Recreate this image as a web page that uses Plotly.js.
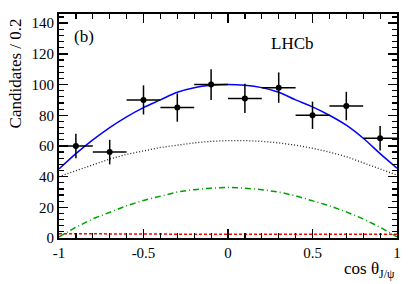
<!DOCTYPE html>
<html><head><meta charset="utf-8">
<script src="https://cdn.plot.ly/plotly-3.0.1.min.js"></script>
<style>html,body{margin:0;padding:0;background:#fff}#c{width:419px;height:284px}</style>
</head><body><div id="c"></div>
<script>
const binCenters = [-0.9,-0.7,-0.5,-0.3,-0.1,0.1,0.3,0.5,0.7,0.9];
const candidates = [60,56,90,85,100,91,98,80,86,65];
const candErr = [8,8,9.5,9.2,10,9.5,9.9,8.9,9.3,8];
const binHalfWidth = [0.1,0.1,0.1,0.1,0.1,0.1,0.1,0.1,0.1,0.1];
const curveX = [-1,-0.9,-0.8,-0.7,-0.6,-0.5,-0.4,-0.3,-0.2,-0.1,0,0.1,0.2,0.3,0.4,0.5,0.6,0.7,0.8,0.9,1];
const totalFit = [45,55,64,72,79,85,90,95,98,99.5,100,99.5,98,95,90,85.5,80,73.5,65,55,45.5];
const dottedComp = [40,44,48,51.5,54.5,57,59,60.5,62,63,63.5,63.5,63,62,60.5,58.5,56,53,49,45,41];
const greenComp = [0.8,7,12.5,17,21,24.5,27.5,30,31.5,32.5,33,32.5,31.5,30,27.5,24.5,21,17,12.5,7,0.8];
const redComp = [2.8,2.7,2.7,2.6,2.6,2.6,2.5,2.5,2.5,2.5,2.5,2.5,2.5,2.5,2.5,2.5,2.5,2.5,2.5,2.5,2.5];
const xTickVals = [-1,-0.5,0,0.5,1];
const xTickText = ["-1","-0.5","0","0.5","1"];
const yTickVals = [0,20,40,60,80,100,120,140];

const serif = "Liberation Serif, Times New Roman, serif";
const traces = [
 {x:curveX,y:redComp,mode:'lines',line:{color:'#ff0000',width:1.5,dash:'3px,2px'},hoverinfo:'skip'},
 {x:curveX,y:greenComp,mode:'lines',line:{color:'#00a000',width:1.5,dash:'6px,3px,1px,3px'},hoverinfo:'skip'},
 {x:curveX,y:dottedComp,mode:'lines',line:{color:'#222',width:1.3,dash:'1px,2px'},hoverinfo:'skip'},
 {x:curveX,y:totalFit,mode:'lines',line:{color:'#0000ff',width:1.5,shape:'spline'},hoverinfo:'skip'},
 {x:binCenters,y:candidates,mode:'markers',marker:{color:'#000',size:6},
  error_y:{type:'data',array:candErr,color:'#000',thickness:1.5,width:0},
  error_x:{type:'data',array:binHalfWidth,color:'#000',thickness:1.5,width:0}}
];
const axCommon = {showgrid:false,zeroline:false,showline:true,linecolor:'#000',linewidth:2,mirror:'allticks',
  ticks:'inside',tickcolor:'#000',tickwidth:1.5,tickfont:{family:serif,size:15,color:'#000'}};
const layout = {
 width:419,height:284,margin:{l:59,r:22,t:14,b:46},showlegend:false,
 paper_bgcolor:'#fff',plot_bgcolor:'#fff',
 xaxis:Object.assign({},axCommon,{range:[-1,1],tickvals:xTickVals,ticktext:xTickText,ticklen:9,
   minor:{dtick:0.1,tick0:0,ticklen:5,ticks:'inside',tickcolor:'#000',tickwidth:1.2}}),
 yaxis:Object.assign({},axCommon,{range:[0,146],tickvals:yTickVals,ticklen:9,
   minor:{dtick:4,tick0:0,ticklen:5,ticks:'inside',tickcolor:'#000',tickwidth:1.2}}),
 annotations:[
  {text:'(b)',xref:'paper',yref:'paper',x:0.038,y:0.9,xanchor:'left',yanchor:'middle',showarrow:false,font:{family:serif,size:17,color:'#000'}},
  {text:'LHCb',xref:'paper',yref:'paper',x:0.62,y:0.87,xanchor:'left',yanchor:'middle',showarrow:false,font:{family:serif,size:17,color:'#000'}},
  {text:'Candidates / 0.2',xref:'paper',yref:'paper',x:-0.13,y:0.735,xanchor:'center',yanchor:'middle',textangle:-90,showarrow:false,font:{family:serif,size:17,color:'#000'}},
  {text:'cos θ<sub>J/ψ</sub>',xref:'paper',yref:'paper',x:1,y:-0.145,xanchor:'right',yanchor:'middle',showarrow:false,font:{family:serif,size:17,color:'#000'}}
 ]
};
Plotly.newPlot('c',traces,layout,{staticPlot:true,displayModeBar:false});
</script></body></html>
